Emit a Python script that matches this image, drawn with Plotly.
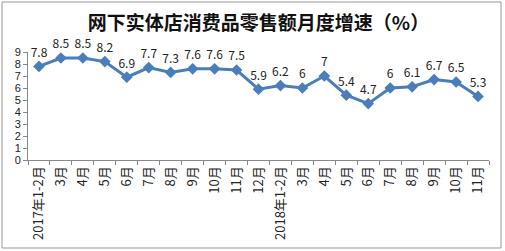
import plotly.graph_objects as go

title = "网下实体店消费品零售额月度增速（%）"
months = ["2017年1-2月", "3月", "4月", "5月", "6月", "7月", "8月", "9月", "10月", "11月", "12月",
          "2018年1-2月", "3月", "4月", "5月", "6月", "7月", "8月", "9月", "10月", "11月"]
growth = [7.8, 8.5, 8.5, 8.2, 6.9, 7.7, 7.3, 7.6, 7.6, 7.5, 5.9,
          6.2, 6, 7, 5.4, 4.7, 6, 6.1, 6.7, 6.5, 5.3]
y_ticks = list(range(0, 10))

idx = list(range(len(months)))
W, H = 505, 251
L, R, T, B = 28, 16, 52, 91
pw, ph = W - L - R, H - T - B
FONT = "Noto Sans CJK SC, sans-serif"

fig = go.Figure()
fig.add_trace(go.Scatter(
    x=idx, y=growth, mode="lines+markers+text",
    line=dict(color="#4A7EBB", width=3),
    marker=dict(symbol="diamond", size=9, color="#4A7EBB"),
    text=[f"{v:g}" for v in growth], textposition="top center",
    textfont=dict(family=FONT, size=12, color="#222222"),
    cliponaxis=False, hoverinfo="skip"))

fig.update_layout(
    width=W, height=H, margin=dict(l=L, r=R, t=T, b=B),
    paper_bgcolor="white", plot_bgcolor="white", showlegend=False,
    title=dict(text=title, x=0.5, xref="paper", xanchor="center", y=1 - 23 / H, yanchor="middle",
               font=dict(family=FONT, size=19, color="#111111", weight="bold")),
    xaxis=dict(range=[-0.5, len(months) - 0.5], tickmode="array", tickvals=idx, ticktext=months,
               tickangle=-90, ticks="", showgrid=False, zeroline=False,
               showline=True, linecolor="#888888", linewidth=1,
               tickfont=dict(family=FONT, size=13, color="#222222"),
               minor=dict(tickmode="array", tickvals=[i - 0.5 for i in idx] + [len(months) - 0.5],
                          ticks="outside", ticklen=4, tickcolor="#888888", showgrid=False)),
    yaxis=dict(range=[0, 9], tickmode="array", tickvals=y_ticks, ticks="outside", ticklen=4,
               tickcolor="#888888", showgrid=False, zeroline=False, showline=True,
               linecolor="#888888", linewidth=1,
               tickfont=dict(family="Liberation Sans, Arial, sans-serif", size=11, color="#222222")),
)

fig.add_shape(type="rect", xref="paper", yref="paper",
              x0=(2 - L) / pw, x1=(501 - L) / pw,
              y0=(H - B - 248) / ph, y1=(H - B - 2) / ph,
              line=dict(color="#999999", width=1), fillcolor="rgba(0,0,0,0)", layer="below")

fig.write_html("out.html")
